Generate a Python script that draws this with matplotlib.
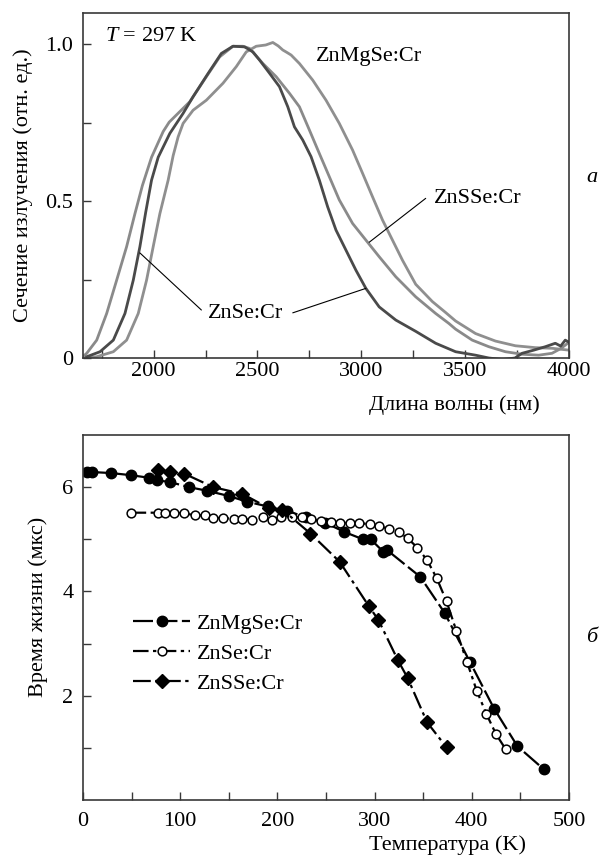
import numpy as np
import matplotlib
matplotlib.use("Agg")
import matplotlib.pyplot as plt

plt.rcParams['font.family'] = ['Liberation Serif', 'DejaVu Serif']
plt.rcParams['mathtext.fontset'] = 'custom'
plt.rcParams['mathtext.rm'] = 'Liberation Serif'
plt.rcParams['mathtext.it'] = 'Liberation Serif:italic'

# --- panel a: emission cross-section spectra (T = 297 K) ---
wl_znsse = [1659, 1678, 1726, 1774, 1822, 1870, 1910, 1946, 1990, 2046, 2075, 2110, 2174,
            2254, 2318, 2382, 2430, 2462, 2526, 2590, 2654, 2702, 2750, 2798, 2846,
            2894, 2958, 3022, 3086, 3166, 3262, 3358, 3422, 3454, 3534, 3614, 3694,
            3774, 3854, 3918, 3960, 4000]
sig_znsse = [0.004, 0.015, 0.057, 0.142, 0.248, 0.355, 0.46, 0.55, 0.64, 0.722, 0.752, 0.775, 0.817,
             0.897, 0.96, 0.994, 0.994, 0.987, 0.939, 0.897, 0.844, 0.801, 0.727, 0.652, 0.578,
             0.504, 0.429, 0.376, 0.323, 0.259, 0.195, 0.142, 0.110, 0.092, 0.057, 0.036, 0.020,
             0.012, 0.009, 0.015, 0.03, 0.05]

wl_znse = [1678, 1742, 1806, 1862, 1902, 1934, 1962, 1990, 2022, 2078, 2142,
           2190, 2262, 2326, 2382, 2438, 2478, 2510, 2558, 2606, 2646, 2678, 2718,
           2758, 2798, 2838, 2878, 2926, 2974, 3022, 3086, 3166, 3262, 3358, 3454,
           3550, 3614, 3680, 3740, 3774, 3830, 3886, 3934, 3960, 3982, 4000]
sig_znse = [0.004, 0.02, 0.057, 0.142, 0.248, 0.355, 0.465, 0.567, 0.64, 0.716, 0.78,
            0.833, 0.907, 0.971, 0.994, 0.992, 0.976, 0.95, 0.908, 0.865, 0.801, 0.737, 0.695,
            0.642, 0.567, 0.482, 0.408, 0.344, 0.28, 0.222, 0.163, 0.121, 0.085, 0.047, 0.02,
            0.009, 0.0, -0.005, 0.0, 0.015, 0.025, 0.036, 0.047, 0.038, 0.057, 0.05]

wl_znmgse = [1659, 1726, 1806, 1870, 1926, 1966, 1998, 2030, 2058, 2070, 2094, 2118, 2142,
             2190, 2254, 2334, 2398, 2446, 2494, 2540, 2574, 2600, 2622, 2640, 2662,
             2702, 2766, 2830, 2894, 2958, 3006, 3054, 3102, 3150, 3198, 3262, 3342,
             3406, 3454, 3550, 3646, 3742, 3838, 3918, 4000]
sig_znmgse = [0.0, 0.004, 0.02, 0.057, 0.142, 0.248, 0.355, 0.46, 0.535, 0.567, 0.645, 0.705, 0.748,
              0.79, 0.822, 0.876, 0.929, 0.976, 0.994, 0.998, 1.006, 0.995, 0.982, 0.975, 0.966,
              0.939, 0.886, 0.822, 0.748, 0.663, 0.589, 0.514, 0.44, 0.376, 0.312, 0.235, 0.18,
              0.145, 0.118, 0.078, 0.054, 0.039, 0.033, 0.031, 0.025]

# --- panel b: lifetime vs temperature ---
T_znmgse = [4, 9, 29, 49, 68, 76, 89, 109, 128, 150, 169, 190, 210, 229, 249, 269,
            288, 296, 309, 313, 347, 372, 398, 423, 447, 474]
tau_znmgse = [6.29, 6.29, 6.27, 6.23, 6.18, 6.13, 6.10, 6.00, 5.93, 5.83, 5.72, 5.63, 5.55,
              5.42, 5.32, 5.14, 5.0, 5.0, 4.76, 4.79, 4.28, 3.59, 2.65, 1.75, 1.03, 0.59]

T_znse = [49, 77, 84, 94, 104, 115, 125, 134, 144, 155, 164, 174, 185, 194, 204, 215,
          225, 235, 245, 255, 264, 275, 284, 295, 305, 315, 325, 334, 344, 354, 364,
          374, 384, 395, 405, 415, 425, 435]
tau_znse = [5.51, 5.51, 5.51, 5.51, 5.50, 5.46, 5.46, 5.41, 5.41, 5.39, 5.39, 5.37, 5.43,
            5.37, 5.43, 5.42, 5.42, 5.38, 5.35, 5.33, 5.32, 5.31, 5.31, 5.29, 5.25, 5.20,
            5.14, 5.02, 4.84, 4.60, 4.25, 3.81, 3.25, 2.65, 2.10, 1.65, 1.26, 0.97]

T_znsse = [77, 89, 104, 134, 164, 191, 205, 234, 264, 294, 304, 324, 334, 354, 374]
tau_znsse = [6.33, 6.29, 6.26, 6.00, 5.87, 5.60, 5.57, 5.11, 4.57, 3.72, 3.45, 2.68, 2.34,
             1.49, 1.01]

W, H = 599, 857
fig = plt.figure(figsize=(W / 100, H / 100), dpi=100)

spine_col = '#383838'
fs = 16

# ---------------- panel a ----------------
ax1 = fig.add_axes([83 / W, 1 - 358 / H, 486 / W, 345 / H])
ax1.plot(wl_znmgse, sig_znmgse, color='#8f8f8f', lw=2.0)
ax1.plot(wl_znsse, sig_znsse, color='#8a8a8a', lw=2.0)
ax1.plot(wl_znse, sig_znse, color='#4a4a4a', lw=2.0)
ax1.set_xlim(1660, 4000)
ax1.set_ylim(0, 1.10)
xt = np.arange(1750, 4001, 250)
ax1.set_xticks(xt)
ax1.set_xticklabels([str(v) if v % 500 == 0 else '' for v in xt])
yt = [0, 0.25, 0.5, 0.75, 1.0]
ax1.set_yticks(yt)
ax1.set_yticklabels(['0', '', '0.5', '', '1.0'])
ax1.tick_params(direction='in', length=6, width=1.0, labelsize=fs, color=spine_col)
ax1.tick_params(axis='x', pad=3)
ax1.tick_params(axis='y', pad=7)
ax1.set_ylabel('Сечение излучения (отн. ед.)', fontsize=fs)
ax1.yaxis.set_label_coords(-0.103, 0.5)
ax1.text(1766, 1.024, '$T$ = 297 K', fontsize=fs, va='center')
ax1.text(2781, 0.96, 'ZnMgSe:Cr', fontsize=fs, va='center')
ax1.text(3350, 0.51, 'ZnSSe:Cr', fontsize=fs, va='center')
ax1.text(2262, 0.142, 'ZnSe:Cr', fontsize=fs, va='center')
lk = dict(arrowstyle='-', lw=0.8, color='k', shrinkA=0, shrinkB=0)
ax1.annotate('', xy=(3038, 0.369), xytext=(3310, 0.509), arrowprops=lk)
ax1.annotate('', xy=(1934, 0.335), xytext=(2230, 0.153), arrowprops=lk)
ax1.annotate('', xy=(3022, 0.222), xytext=(2670, 0.144), arrowprops=lk)
fig.text(369 / W, 1 - 405 / H, 'Длина волны (нм)', fontsize=fs, va='center', ha='left')
fig.text(586 / W, 1 - 177 / H, 'а', fontsize=fs, style='italic', va='center')

# ---------------- panel b ----------------
ax2 = fig.add_axes([83 / W, 1 - 800 / H, 486 / W, 365 / H])
ax2.plot(T_znmgse, tau_znmgse, color='k', lw=1.6, ls=(0, (9, 2)),
         marker='o', ms=7.5, mfc='k', mec='k', label='ZnMgSe:Cr')
ax2.plot(T_znse, tau_znse, color='k', lw=1.6, ls=(0, (7, 2, 1.5, 2)),
         marker='o', ms=6.3, mfc='white', mec='k', mew=1.1, label='ZnSe:Cr')
ax2.plot(T_znsse, tau_znsse, color='k', lw=1.6, ls=(0, (8, 2, 1.5, 2)),
         marker='D', ms=7, mfc='k', mec='k', label='ZnSSe:Cr')
ax2.set_xlim(0, 500)
ax2.set_ylim(0, 7)
xt2 = np.arange(0, 501, 50)
ax2.set_xticks(xt2)
ax2.set_xticklabels([str(v) if v % 100 == 0 else '' for v in xt2])
ax2.set_yticks([1, 2, 3, 4, 5, 6])
ax2.set_yticklabels(['', '2', '', '4', '', '6'])
ax2.tick_params(direction='in', length=6, width=1.0, labelsize=fs, color=spine_col)
ax2.tick_params(axis='x', pad=9)
ax2.tick_params(axis='y', pad=7)
ax2.set_ylabel('Время жизни (мкс)', fontsize=fs)
ax2.yaxis.set_label_coords(-0.072, 0.529)
fig.text(369 / W, 1 - 845 / H, 'Температура (K)', fontsize=fs, va='center', ha='left')
fig.text(586 / W, 1 - 638 / H, 'б', fontsize=fs, style='italic', va='center')
ax2.legend(loc='upper left', bbox_to_anchor=(0.103, 0.512), frameon=False, fontsize=fs,
           handlelength=2.57, handletextpad=0.3, labelspacing=0.43, borderpad=0,
           borderaxespad=0)

for ax in (ax1, ax2):
    for s in ax.spines.values():
        s.set_color(spine_col)
        s.set_linewidth(1.2)

fig.savefig('out.png', dpi=100)
